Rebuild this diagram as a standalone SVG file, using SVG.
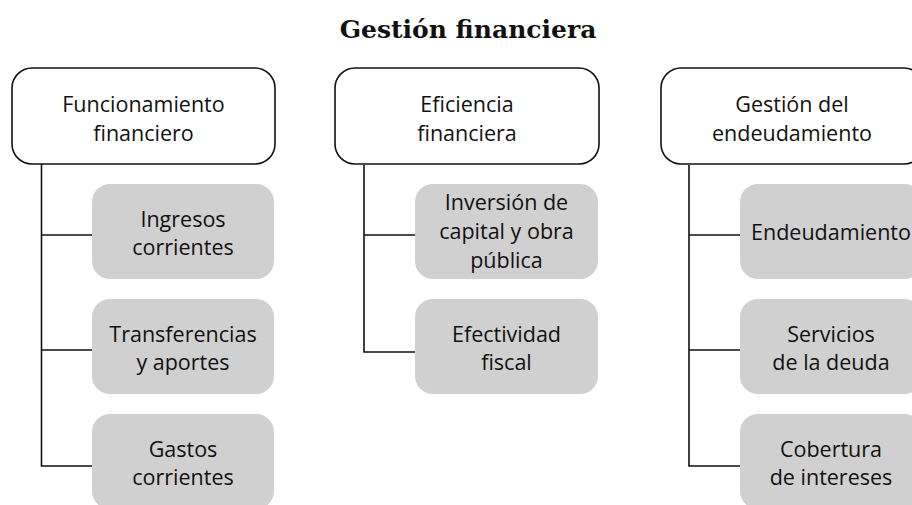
<svg xmlns="http://www.w3.org/2000/svg" width="912" height="505" viewBox="0 0 912 505">
<style>
.title{font-family:"DejaVu Serif",serif;font-weight:bold;font-size:25px;fill:#111;text-anchor:middle}
.t{font-family:"Open Sans","Liberation Sans",sans-serif;font-size:21.5px;fill:#111;text-anchor:middle}
.hdr{fill:#fff;stroke:#111;stroke-width:1.6}
.sub{fill:#d0d0d0;stroke:none}
.ln{stroke:#111;stroke-width:1.6;fill:none}
</style>
<rect width="912" height="505" fill="#fff"/>
<text class="title" x="468" y="38">Gestión financiera</text>
<g id="connectors">
<path class="ln" d="M41.5 164V466H93M41.5 235H93M41.5 350H93"/>
<path class="ln" d="M364 165V352H415M364 235H415"/>
<path class="ln" d="M689 165V466H740M689 235H740M689 350H740"/>
</g>
<g id="n-funcionamiento">
<rect class="hdr" x="12" y="68" width="263" height="96" rx="20"/>
<text class="t" x="143.5" y="112">Funcionamiento</text>
<text class="t" x="143.5" y="141">financiero</text>
</g>
<g id="n-ingresos">
<rect class="sub" x="92" y="184" width="182" height="95" rx="18"/>
<text class="t" x="183" y="227">Ingresos</text>
<text class="t" x="183" y="255">corrientes</text>
</g>
<g id="n-transferencias">
<rect class="sub" x="92" y="299" width="182" height="95" rx="18"/>
<text class="t" x="183" y="342">Transferencias</text>
<text class="t" x="183" y="370">y aportes</text>
</g>
<g id="n-gastos">
<rect class="sub" x="92" y="414" width="182" height="95" rx="18"/>
<text class="t" x="183" y="457">Gastos</text>
<text class="t" x="183" y="485">corrientes</text>
</g>
<g id="n-eficiencia">
<rect class="hdr" x="335" y="68" width="264" height="96" rx="20"/>
<text class="t" x="467" y="112">Eficiencia</text>
<text class="t" x="467" y="141">financiera</text>
</g>
<g id="n-inversion">
<rect class="sub" x="415" y="184" width="183" height="95" rx="18"/>
<text class="t" x="506.5" y="210">Inversión de</text>
<text class="t" x="506.5" y="239">capital y obra</text>
<text class="t" x="506.5" y="268">pública</text>
</g>
<g id="n-efectividad">
<rect class="sub" x="415" y="299" width="183" height="95" rx="18"/>
<text class="t" x="506.5" y="342">Efectividad</text>
<text class="t" x="506.5" y="370">fiscal</text>
</g>
<g id="n-gestion-endeudamiento">
<rect class="hdr" x="661" y="68" width="263" height="96" rx="20"/>
<text class="t" x="792" y="112">Gestión del</text>
<text class="t" x="792" y="141">endeudamiento</text>
</g>
<g id="n-endeudamiento">
<rect class="sub" x="740" y="184" width="182" height="95" rx="18"/>
<text class="t" x="831" y="240">Endeudamiento</text>
</g>
<g id="n-servicios">
<rect class="sub" x="740" y="299" width="182" height="95" rx="18"/>
<text class="t" x="831" y="342">Servicios</text>
<text class="t" x="831" y="370">de la deuda</text>
</g>
<g id="n-cobertura">
<rect class="sub" x="740" y="414" width="182" height="95" rx="18"/>
<text class="t" x="831" y="457">Cobertura</text>
<text class="t" x="831" y="485">de intereses</text>
</g>
</svg>
